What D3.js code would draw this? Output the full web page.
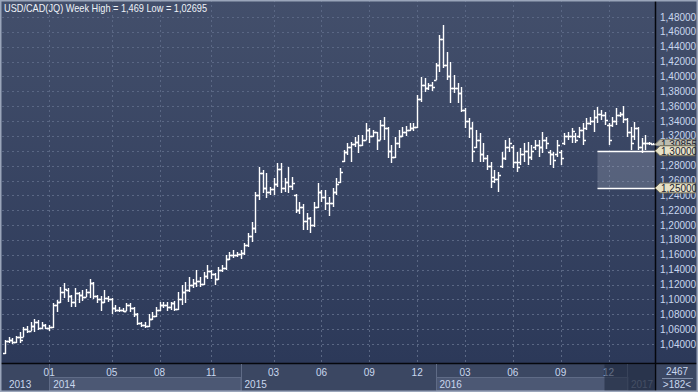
<!DOCTYPE html>
<html><head><meta charset="utf-8">
<script src="https://cdn.jsdelivr.net/npm/d3@7"></script>
<style>html,body{margin:0;padding:0;background:#2f3c5a;overflow:hidden}svg{display:block}text{font-family:"Liberation Sans",Arial,sans-serif}</style>
</head><body><svg id="c" width="698" height="392"></svg>
<script>
// Weekly USD/CAD bars (first bar: week ending 2013-10-11)
const opens=[1.0285,1.0440,1.0450,1.0430,1.0490,1.0500,1.0600,1.0580,1.0640,1.0700,1.0620,1.0660,1.0620,1.0630,1.0920,1.0960,1.1100,1.1120,1.1050,1.0970,1.1080,1.1060,1.1030,1.1100,1.1220,1.1040,1.1000,1.0960,1.1020,1.1000,1.0880,1.0860,1.0860,1.0850,1.0920,1.0880,1.0800,1.0680,1.0660,1.0640,1.0740,1.0780,1.0860,1.0920,1.0930,1.0900,1.0950,1.0870,1.1000,1.1100,1.1130,1.1200,1.1220,1.1250,1.1210,1.1320,1.1380,1.1340,1.1280,1.1390,1.1420,1.1550,1.1600,1.1600,1.1610,1.1630,1.1730,1.1850,1.1960,1.2400,1.2700,1.2500,1.2450,1.2480,1.2550,1.2750,1.2500,1.2580,1.2520,1.2400,1.2200,1.2250,1.2050,1.2100,1.2000,1.2250,1.2450,1.2380,1.2300,1.2300,1.2450,1.2580,1.2860,1.2980,1.3050,1.3090,1.3120,1.3080,1.3150,1.3280,1.3200,1.3250,1.3150,1.3350,1.3300,1.3000,1.2920,1.3100,1.3200,1.3250,1.3280,1.3300,1.3320,1.3700,1.3880,1.3850,1.3880,1.3950,1.4150,1.4500,1.4150,1.4000,1.3850,1.3850,1.3780,1.3550,1.3400,1.3300,1.3050,1.3150,1.2950,1.2900,1.2800,1.2650,1.2620,1.2800,1.2900,1.3050,1.3050,1.2850,1.2850,1.2950,1.3000,1.2920,1.3050,1.3080,1.3050,1.3150,1.2990,1.2950,1.2950,1.2990,1.3100,1.3200,1.3200,1.3200,1.3200,1.3280,1.3300,1.3380,1.3400,1.3450,1.3500,1.3480,1.3350,1.3350,1.3400,1.3480,1.3500,1.3430,1.3250,1.3200,1.3300,1.3050,1.3100,1.3100,1.3090];
const highs=[1.0455,1.0490,1.0480,1.0510,1.0560,1.0630,1.0640,1.0690,1.0740,1.0720,1.0700,1.0665,1.0660,1.0950,1.0990,1.1170,1.1220,1.1150,1.1060,1.1150,1.1100,1.1120,1.1140,1.1280,1.1240,1.1060,1.1040,1.1130,1.1040,1.1020,1.0920,1.0900,1.0880,1.0950,1.0950,1.0900,1.0820,1.0700,1.0690,1.0800,1.0830,1.0900,1.0970,1.0970,1.0960,1.0970,1.0980,1.1100,1.1200,1.1230,1.1300,1.1280,1.1400,1.1300,1.1370,1.1460,1.1400,1.1350,1.1430,1.1460,1.1600,1.1640,1.1660,1.1640,1.1660,1.1760,1.1890,1.2040,1.2440,1.2785,1.2740,1.2700,1.2510,1.2630,1.2830,1.2830,1.2630,1.2780,1.2650,1.2420,1.2310,1.2280,1.2160,1.2110,1.2310,1.2570,1.2470,1.2470,1.2380,1.2500,1.2630,1.2770,1.3010,1.3100,1.3120,1.3180,1.3210,1.3210,1.3370,1.3300,1.3280,1.3250,1.3410,1.3450,1.3320,1.3080,1.3180,1.3280,1.3320,1.3330,1.3370,1.3380,1.3750,1.3990,1.3980,1.3910,1.3920,1.4180,1.4560,1.4690,1.4330,1.4190,1.4020,1.3910,1.3860,1.3570,1.3440,1.3390,1.3280,1.3240,1.3100,1.2940,1.2850,1.2740,1.2710,1.2980,1.3140,1.3170,1.3080,1.2980,1.3040,1.3100,1.3120,1.3080,1.3140,1.3140,1.3250,1.3180,1.3010,1.2980,1.3140,1.3010,1.3240,1.3250,1.3310,1.3240,1.3320,1.3370,1.3440,1.3450,1.3550,1.3590,1.3550,1.3520,1.3370,1.3450,1.3570,1.3520,1.3600,1.3440,1.3320,1.3390,1.3320,1.3170,1.3210,1.3120,1.3100];
const lows=[1.0270,1.0410,1.0400,1.0410,1.0410,1.0490,1.0550,1.0580,1.0560,1.0590,1.0600,1.0600,1.0580,1.0610,1.0830,1.0950,1.1020,1.0970,1.0900,1.0900,1.0950,1.0980,1.1030,1.1020,1.1000,1.0950,1.0850,1.0950,1.0970,1.0810,1.0830,1.0830,1.0830,1.0840,1.0830,1.0760,1.0650,1.0630,1.0610,1.0630,1.0720,1.0760,1.0840,1.0880,1.0850,1.0860,1.0840,1.0860,1.0920,1.0950,1.1100,1.1150,1.1170,1.1170,1.1200,1.1280,1.1280,1.1190,1.1260,1.1370,1.1400,1.1530,1.1560,1.1570,1.1550,1.1600,1.1700,1.1770,1.1900,1.2340,1.2430,1.2360,1.2400,1.2400,1.2510,1.2430,1.2450,1.2430,1.2470,1.2160,1.2150,1.1930,1.1930,1.1900,1.1980,1.2230,1.2310,1.2200,1.2120,1.2250,1.2400,1.2570,1.2850,1.2940,1.2850,1.3050,1.2970,1.3060,1.3150,1.3100,1.3180,1.3010,1.3150,1.3150,1.2900,1.2840,1.2900,1.3040,1.3180,1.3200,1.3260,1.3270,1.3300,1.3660,1.3790,1.3820,1.3810,1.3950,1.4060,1.4110,1.3950,1.3640,1.3780,1.3640,1.3520,1.3310,1.3170,1.2850,1.3040,1.2850,1.2850,1.2740,1.2500,1.2570,1.2450,1.2770,1.2870,1.2980,1.2770,1.2710,1.2810,1.2850,1.2810,1.2870,1.3010,1.2920,1.2970,1.3030,1.2810,1.2770,1.2920,1.2810,1.3080,1.3140,1.3100,1.3100,1.3170,1.3080,1.3280,1.3350,1.3250,1.3370,1.3410,1.3350,1.3080,1.3320,1.3350,1.3450,1.3370,1.3190,1.3010,1.3140,1.3010,1.2970,1.3010,1.3080,1.3080];
const closes=[1.0440,1.0450,1.0430,1.0490,1.0450,1.0600,1.0580,1.0640,1.0700,1.0620,1.0660,1.0620,1.0630,1.0920,1.0960,1.1100,1.1140,1.1050,1.0970,1.1080,1.1060,1.1030,1.1100,1.1220,1.1040,1.1000,1.0960,1.1020,1.1000,1.0880,1.0860,1.0860,1.0850,1.0920,1.0880,1.0800,1.0680,1.0660,1.0640,1.0740,1.0780,1.0860,1.0920,1.0930,1.0900,1.0950,1.0870,1.1000,1.1100,1.1130,1.1200,1.1220,1.1250,1.1210,1.1320,1.1380,1.1340,1.1280,1.1390,1.1420,1.1550,1.1600,1.1600,1.1610,1.1630,1.1730,1.1850,1.1960,1.2400,1.2700,1.2500,1.2450,1.2480,1.2550,1.2750,1.2500,1.2580,1.2520,1.2560,1.2200,1.2250,1.2050,1.2100,1.2000,1.2250,1.2450,1.2380,1.2300,1.2300,1.2450,1.2550,1.2720,1.2980,1.3050,1.3090,1.3120,1.3080,1.3150,1.3280,1.3200,1.3250,1.3150,1.3350,1.3300,1.3000,1.2920,1.3100,1.3200,1.3250,1.3280,1.3300,1.3320,1.3700,1.3880,1.3850,1.3880,1.3860,1.4150,1.4500,1.4150,1.4000,1.3850,1.3850,1.3780,1.3550,1.3400,1.3300,1.3000,1.3150,1.2950,1.2900,1.2800,1.2600,1.2620,1.2680,1.2900,1.3050,1.3100,1.2850,1.2780,1.2950,1.3000,1.2920,1.3000,1.3080,1.3050,1.3150,1.3100,1.2950,1.2880,1.3080,1.2900,1.3200,1.3200,1.3260,1.3150,1.3280,1.3150,1.3380,1.3400,1.3450,1.3500,1.3480,1.3420,1.3150,1.3400,1.3480,1.3500,1.3430,1.3250,1.3100,1.3300,1.3050,1.3100,1.3100,1.3100,1.30855];
const firstWeek = "2013-10-11";
const yTicks = d3.range(1.04, 1.4801, 0.02);
const monthTicks = ["2014-01","2014-05","2014-08","2014-11","2015-03","2015-06","2015-09","2015-12","2016-03","2016-06","2016-09","2016-12"];
const years = ["2013","2014","2015","2016","2017"];
const levels = [1.30, 1.25];
const levelStartBar = 161;
const tags = [{v:1.30855, t:"1,30855", last:true},{v:1.30, t:"1,30000"},{v:1.25, t:"1,25000"}];
const title = "USD/CAD(JQ) Week High = 1,469 Low = 1,02695";
const cornerTop = "2467", cornerBottom = ">182<";

const W=698, H=392, plotL=2, plotR=655, plotB=363;
const N = opens.length;
const parse = d3.timeParse("%Y-%m-%d");
const start = parse(firstWeek);
const dates = d3.range(N).map(i => {
  let d = d3.timeDay.offset(start, 7*i);
  if (d.getMonth()===0 && d.getDate()===1) d = d3.timeDay.offset(d,-1);
  return d;
});
const x = d3.scaleLinear().domain([0, N-1]).range([5, 5 + 3.68*(N-1)]);
const y = d3.scaleLinear().domain([1.04, 1.48]).range([344, 17]);
const fmt = v => d3.format(".5f")(v).replace(".", ",");
const px = v => Math.round(v) + 0.5;

const svg = d3.select("#c");
const defs = svg.append("defs");
const g1 = defs.append("linearGradient").attr("id","bg").attr("x1",0).attr("y1",0).attr("x2",0).attr("y2",1);
g1.append("stop").attr("offset","0%").attr("stop-color","#434f6b");
g1.append("stop").attr("offset","100%").attr("stop-color","#2c3959");
defs.append("clipPath").attr("id","pc").append("rect").attr("x",plotL).attr("y",0).attr("width",plotR-plotL).attr("height",plotB);
defs.append("clipPath").attr("id","lastclip").append("rect").attr("x",plotR).attr("y",0).attr("width",W-plotR).attr("height",y(1.30)-5);

svg.append("rect").attr("x",0).attr("y",0).attr("width",W).attr("height",plotB).attr("fill","url(#bg)");
svg.append("rect").attr("x",0).attr("y",plotB).attr("width",W).attr("height",H-plotB).attr("fill","#3b4762");

// grid
const grid = svg.append("g").attr("clip-path","url(#pc)").attr("stroke","#5a6784").attr("stroke-dasharray","2,3").attr("stroke-width",1);
yTicks.forEach(v => grid.append("line").attr("x1",plotL).attr("x2",plotR).attr("y1",px(y(v))).attr("y2",px(y(v))));
const monthIdx = monthTicks.map(m => dates.findIndex(d => d3.timeFormat("%Y-%m")(d) === m));
monthIdx.forEach(i => grid.append("line").attr("x1",px(x(i))).attr("x2",px(x(i))).attr("y1",0).attr("y2",plotB));

// level zone
const zx = x(levelStartBar);
svg.append("rect").attr("x",zx).attr("y",y(levels[0])).attr("width",plotR-zx).attr("height",y(levels[1])-y(levels[0])).attr("fill","rgba(200,205,220,0.22)");

// bars
const bars = svg.append("g").attr("clip-path","url(#pc)").attr("stroke","#ffffff").attr("stroke-width",1.4).attr("fill","none");
bars.selectAll("path").data(d3.range(N)).join("path").attr("d", i => {
  const cx = px(x(i));
  const yh = Math.round(y(highs[i])), yl = Math.round(y(lows[i]));
  const yo = px(y(opens[i])), yc = px(y(closes[i]));
  return `M${cx},${yh}V${Math.max(yl, yh+1)}M${cx-2.5},${yo}H${cx}M${cx},${yc}H${cx+2.5}`;
});

levels.forEach(v => svg.append("line").attr("x1",zx).attr("x2",plotR).attr("y1",px(y(v))).attr("y2",px(y(v))).attr("stroke","#ffffff").attr("stroke-width",1.5));

// separators
svg.append("line").attr("x1",0).attr("x2",W).attr("y1",plotB+0.5).attr("y2",plotB+0.5).attr("stroke","#05070c").attr("stroke-width",1.5);
svg.append("line").attr("x1",plotR+0.5).attr("x2",plotR+0.5).attr("y1",0).attr("y2",H).attr("stroke","#05070c").attr("stroke-width",1.5);

// right axis labels (the 1,30000 level is shown by its tag)
const tagVals = tags.map(t => t.v);
svg.append("g").selectAll("text").data(yTicks.filter(v => !tagVals.some(t => Math.abs(t - v) < 1e-6))).join("text")
  .attr("x",660).attr("y",v => y(v)+3.5).attr("fill","#c9d7ee").attr("font-size",10).text(fmt);

// tags
tags.forEach(t => {
  const yc = y(t.v);
  const gt = svg.append("g");
  if (t.last) gt.attr("clip-path","url(#lastclip)");
  gt.append("path").attr("d",`M${plotR},${yc}L${plotR+5},${yc-5}H${W-3}V${yc+5}H${plotR+5}Z`)
    .attr("fill", t.last ? "#bdbcae" : "#e6e1c6").attr("stroke", t.last ? "#7f7e70" : "#6b6650").attr("stroke-width",1);
  gt.append("text").attr("x",661).attr("y",yc+4).attr("fill","#1c2333").attr("font-size",10).text(t.t);
});

// bottom axis: year bands
const yearStartIdx = years.map((yr,k) => k===0 ? 0 : dates.findIndex(d => d.getFullYear() === +yr));
years.forEach((yr,k) => {
  const a = k===0 ? plotL : x(yearStartIdx[k]);
  const b = k < years.length-1 ? x(yearStartIdx[k+1]) : plotR;
  if (k % 2 === 1) {
    svg.append("rect").attr("x",px(a)).attr("y",377.5).attr("width",b-a).attr("height",13).attr("fill","#4c5874").attr("stroke","#5f6b86");
  }
  if (k>0) svg.append("line").attr("x1",px(a)).attr("x2",px(a)).attr("y1",plotB+1).attr("y2",H).attr("stroke","#5f6b86");
  svg.append("text").attr("x",Math.max(a,5)+4).attr("y",388).attr("fill", k===years.length-1 ? "#7d889e" : "#c9d7ee").attr("font-size",10).text(yr);
});
monthIdx.forEach((i,k) => {
  svg.append("text").attr("x",x(i)).attr("y",376).attr("text-anchor","middle").attr("fill","#c9d7ee").attr("font-size",10).text(monthTicks[k].slice(5));
});
// dim overlay at the end of the time axis
svg.append("rect").attr("x",x(164)-4).attr("y",plotB+1).attr("width",plotR-(x(164)-4)).attr("height",H-plotB-1).attr("fill","rgba(30,40,62,0.6)");

// corner box
svg.append("text").attr("x",677).attr("y",375).attr("text-anchor","middle").attr("fill","#c9d7ee").attr("font-size",10).text(cornerTop);
svg.append("line").attr("x1",662).attr("x2",693).attr("y1",378.5).attr("y2",378.5).attr("stroke","#8290aa");
svg.append("text").attr("x",677).attr("y",388).attr("text-anchor","middle").attr("fill","#c9d7ee").attr("font-size",10).text(cornerBottom);

// title
svg.append("text").attr("x",4).attr("y",12).attr("fill","#eef2f8").attr("font-size",10.5)
  .attr("textLength",203).attr("lengthAdjust","spacingAndGlyphs").text(title);

// frame
svg.append("rect").attr("x",0.75).attr("y",0.75).attr("width",W-1.5).attr("height",H-1.5).attr("fill","none").attr("stroke","#9aa5ba").attr("stroke-width",1.5);
</script></body></html>
